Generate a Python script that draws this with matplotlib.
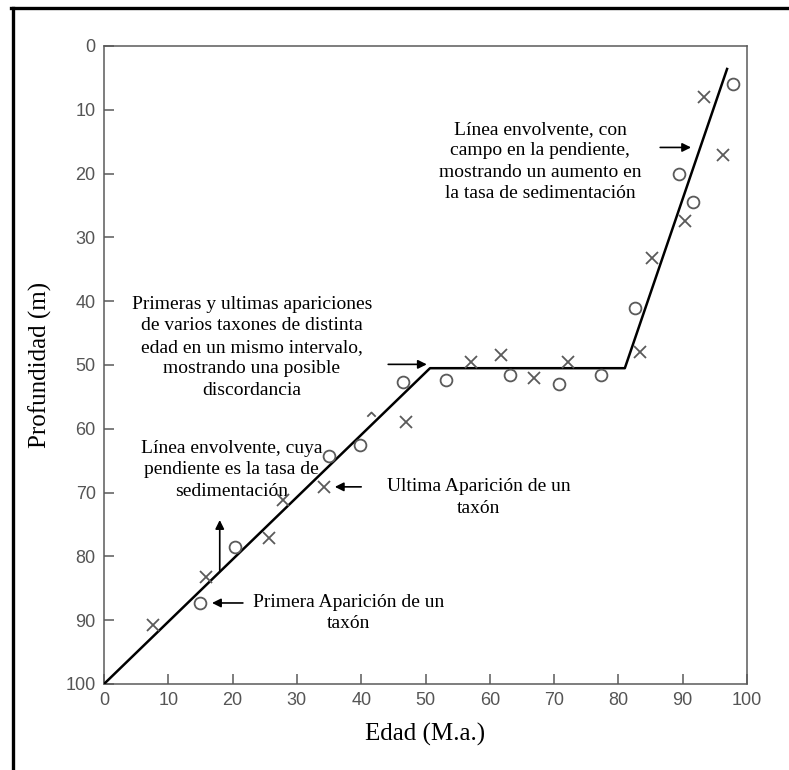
import matplotlib
matplotlib.use("Agg")
import matplotlib.pyplot as plt
from matplotlib.lines import Line2D
from matplotlib.path import Path

# envelope line (age in M.a., depth in m)
env_x = [0, 50.7, 81.0, 96.9]
env_y = [100, 50.5, 50.5, 3.6]

# first appearances (open circles)
first_x = [14.9, 20.4, 35.0, 39.8, 46.5, 53.2, 63.1, 70.8, 77.3, 82.6, 89.4, 91.6, 97.8]
first_y = [87.3, 78.6, 64.2, 62.6, 52.7, 52.3, 51.6, 52.9, 51.6, 41.0, 20.1, 24.5, 6.0]

# last appearances (crosses)
last_x = [7.6, 15.9, 25.7, 27.8, 34.2, 47.0, 57.1, 61.7, 66.9, 72.1, 83.4, 85.2, 90.4, 93.3, 96.2]
last_y = [90.7, 83.2, 77.1, 71.1, 69.1, 59.0, 49.5, 48.5, 52.1, 49.6, 47.9, 33.3, 27.5, 8.0, 17.1]

# half-hidden cross near the line
partial_x = [41.5]
partial_y = [57.4]

ticks = list(range(0, 101, 10))

SERIF = ["Liberation Serif", "DejaVu Serif"]
SANS = ["Liberation Sans", "DejaVu Sans"]
GREY = "#5a5a5a"

fig = plt.figure(figsize=(7.89, 7.70), dpi=100)
ax = fig.add_axes([104 / 789, 1 - 684 / 770, (747 - 104) / 789, (684 - 46) / 770])

ax.plot(env_x, env_y, color="black", lw=1.8, zorder=3)
ax.plot(first_x, first_y, ls="none", marker="o", ms=8.5, mfc="none", mec=GREY, mew=1.3, zorder=4)
ax.plot(last_x, last_y, ls="none", marker="x", ms=9, mec=GREY, mew=1.3, zorder=4)
hat = Path([(-1, -1), (0, 0), (1, -1)], [Path.MOVETO, Path.LINETO, Path.LINETO])
ax.plot(partial_x, partial_y, ls="none", marker=hat, ms=6, mfc="none", mec=GREY, mew=1.3, zorder=4)

ax.set_xlim(0, 100)
ax.set_ylim(100, 0)
ax.set_xticks(ticks)
ax.set_yticks(ticks)
for s in ax.spines.values():
    s.set_color(GREY)
    s.set_linewidth(1.1)
ax.tick_params(direction="in", length=7.5, width=1.1, color=GREY, labelcolor="#555555",
               labelsize=13, pad=6)
for lab in ax.get_xticklabels() + ax.get_yticklabels():
    lab.set_family(SANS)

ax.set_xlabel("Edad (M.a.)", family=SERIF, fontsize=18, labelpad=10)
ax.set_ylabel("Profundidad (m)", family=SERIF, fontsize=18, labelpad=10)

txt = dict(family=SERIF, fontsize=14, ha="center", va="center", linespacing=1.35)
ax.text(67.8, 18.1, "Línea envolvente, con\ncampo en la pendiente,\nmostrando un aumento en\nla tasa de sedimentación", **txt)
ax.text(23.0, 47.2, "Primeras y ultimas apariciones\nde varios taxones de distinta\nedad en un mismo intervalo,\nmostrando una posible\ndiscordancia", **txt)
ax.text(19.8, 66.4, "Línea envolvente, cuya\npendiente es la tasa de\nsedimentación", **txt)
ax.text(58.3, 70.8, "Ultima Aparición de un\ntaxón", **txt)
ax.text(38.1, 88.9, "Primera Aparición de un\ntaxón", **txt)

arrows = [
    ((86.5, 15.9), (91.3, 15.9)),
    ((44.2, 49.9), (50.2, 49.9)),
    ((40.0, 69.1), (35.9, 69.1)),
    ((21.6, 87.3), (16.8, 87.3)),
    ((18.0, 82.2), (18.0, 74.3)),
]
for start, end in arrows:
    ax.annotate("", xy=end, xytext=start,
                arrowprops=dict(arrowstyle="-|>", color="black", lw=1.2,
                                mutation_scale=13, shrinkA=0, shrinkB=0))

# cropped black frame (left and top edges only)
fig.add_artist(Line2D([12.5 / 789, 12.5 / 789], [0, 1 - 7.5 / 770], color="black", lw=2.4,
                      transform=fig.transFigure))
fig.add_artist(Line2D([11 / 789, 1], [1 - 7.5 / 770, 1 - 7.5 / 770], color="black", lw=2.4,
                      transform=fig.transFigure))

fig.savefig("out.png", dpi=100)
